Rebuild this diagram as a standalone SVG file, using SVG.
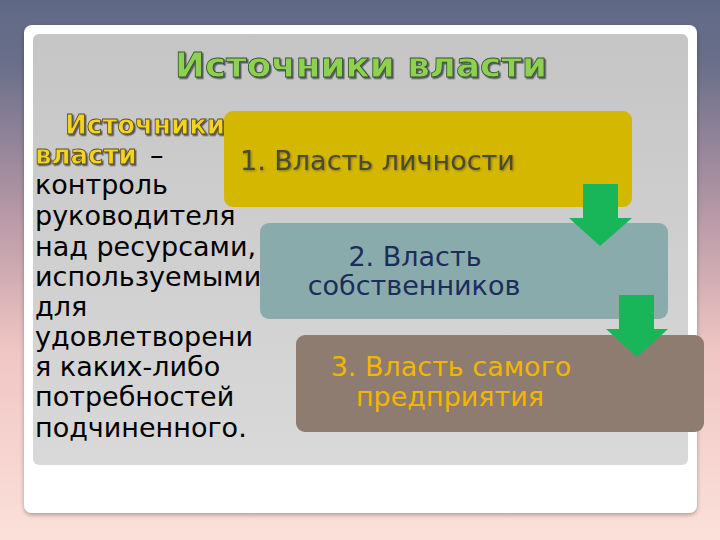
<svg xmlns="http://www.w3.org/2000/svg" width="720" height="540" viewBox="0 0 720 540">
<defs>
<linearGradient id="bg" x1="0" y1="0" x2="0" y2="1">
<stop offset="0" stop-color="#5f6986"/>
<stop offset="0.12" stop-color="#6a6f8a"/>
<stop offset="0.4" stop-color="#b899a6"/>
<stop offset="0.65" stop-color="#f0c6c4"/>
<stop offset="1" stop-color="#fbe0da"/>
</linearGradient>
<linearGradient id="panel" x1="0" y1="0" x2="0" y2="1">
<stop offset="0" stop-color="#c5c5c5"/>
<stop offset="1" stop-color="#d9d9d9"/>
</linearGradient>
<filter id="sh" x="-10%" y="-10%" width="130%" height="140%">
<feDropShadow dx="1.5" dy="1.5" stdDeviation="0.6" flood-color="#3a3a50" flood-opacity="0.8"/>
</filter>
<filter id="soft" x="-10%" y="-20%" width="130%" height="150%">
<feDropShadow dx="1" dy="1" stdDeviation="1" flood-color="#000" flood-opacity="0.35"/>
</filter>
<filter id="card" x="-5%" y="-5%" width="110%" height="110%">
<feDropShadow dx="0" dy="2" stdDeviation="2" flood-color="#000" flood-opacity="0.3"/>
</filter>
<style>
.t{font-family:"DejaVu Sans","Verdana",sans-serif;}
.body{font-size:27px;fill:#000;}
.hl{font-size:26px;font-weight:bold;fill:#f2d420;stroke:#5e4e10;stroke-width:0.8;}
.title{font-size:34px;font-weight:bold;fill:#8ed04f;stroke:#35552c;stroke-width:0.8;}
.box{font-size:27px;}
.arrow{fill:#19b559;}
</style>
</defs>
<rect width="720" height="540" fill="url(#bg)"/>
<rect x="24" y="25" width="673" height="488" rx="8" fill="#ffffff" filter="url(#card)"/>
<rect x="33" y="34" width="655" height="431" rx="6" fill="url(#panel)"/>

<text class="t title" x="361" y="77" text-anchor="middle" textLength="372" lengthAdjust="spacingAndGlyphs" filter="url(#sh)">Источники власти</text>

<g id="definition">
<text class="t hl" x="65" y="134" filter="url(#sh)">Источники</text>
<text class="t hl" x="35" y="164" filter="url(#sh)">власти</text>
<text class="t body" x="150" y="164">–</text>
<text class="t body" x="35" y="194">контроль</text>
<text class="t body" x="35" y="225">руководителя</text>
<text class="t body" x="35" y="256">над ресурсами,</text>
<text class="t body" x="35" y="286">используемыми</text>
<text class="t body" x="35" y="316">для</text>
<text class="t body" x="35" y="346">удовлетворени</text>
<text class="t body" x="35" y="376">я каких-либо</text>
<text class="t body" x="35" y="406">потребностей</text>
<text class="t body" x="35" y="437">подчиненного.</text>
</g>

<g id="node1">
<rect x="224" y="111" width="408" height="96" rx="9" fill="#d4b700"/>
<text class="t box" x="240" y="170" fill="#4b4838" filter="url(#soft)">1. Власть личности</text>
</g>
<g id="node2">
<rect x="260" y="223" width="408" height="96" rx="9" fill="#8aabab"/>
<text class="t box" x="415" y="266" fill="#1c2d5c" text-anchor="middle">2. Власть</text>
<text class="t box" x="414" y="295" fill="#1c2d5c" text-anchor="middle">собственников</text>
</g>
<g id="node3">
<rect x="296" y="335" width="408" height="97" rx="9" fill="#8e7c70"/>
<text class="t box" x="451" y="376" fill="#f2b600" text-anchor="middle">3. Власть самого</text>
<text class="t box" x="450" y="406" fill="#f2b600" text-anchor="middle">предприятия</text>
</g>

<g id="connectors">
<polygon class="arrow" points="583,184 618,184 618,218 632,218 600,246 569,218 583,218"/>
<polygon class="arrow" points="619,295 654,295 654,329 668,329 637,357 606,329 619,329"/>
</g>
</svg>
